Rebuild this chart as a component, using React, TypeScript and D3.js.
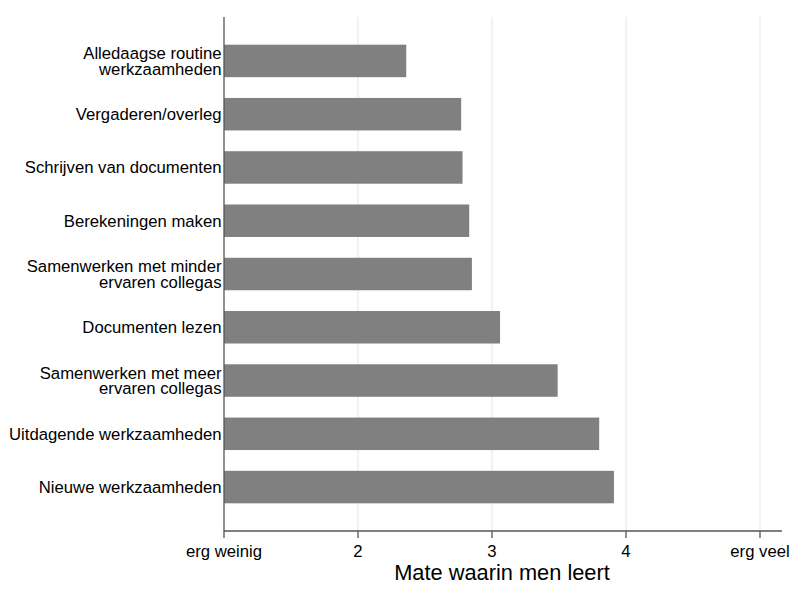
import * as d3 from "d3";

const categories = [
  ["Alledaagse routine", "werkzaamheden"],
  ["Vergaderen/overleg"],
  ["Schrijven van documenten"],
  ["Berekeningen maken"],
  ["Samenwerken met minder", "ervaren collegas"],
  ["Documenten lezen"],
  ["Samenwerken met meer", "ervaren collegas"],
  ["Uitdagende werkzaamheden"],
  ["Nieuwe werkzaamheden"]
];
const values = [2.36, 2.77, 2.78, 2.83, 2.85, 3.06, 3.49, 3.8, 3.91];
const tickValues = [1, 2, 3, 4, 5];
const tickLabels = ["erg weinig", "2", "3", "4", "erg veel"];

export default function App() {
  const width = 801;
  const height = 590;
  const left = 224;
  const top = 17;
  const bottom = 531;
  const font = "'Liberation Sans', Arial, sans-serif";

  const x = d3.scaleLinear().domain([1, 5]).range([left, 760]);
  const keys = categories.map((_, i) => String(i));
  const y = d3
    .scaleBand<string>()
    .domain(keys)
    .range([34.3, 513.7])
    .paddingInner(0.39)
    .paddingOuter(0.195);

  return (
    <svg
      width={width}
      height={height}
      viewBox={`0 0 ${width} ${height}`}
      style={{ position: "absolute", left: 0, top: 0, background: "#fff" }}
    >
      <rect width={width} height={height} fill="#ffffff" />
      {tickValues.slice(1).map((t) => (
        <line key={`g${t}`} x1={x(t)} x2={x(t)} y1={top} y2={bottom} stroke="#eaf2f3" strokeWidth="1.6" />
      ))}
      {values.map((v, i) => (
        <rect
          key={i}
          x={x(1)}
          y={y(String(i))}
          width={x(v) - x(1)}
          height={y.bandwidth()}
          fill="#808080"
        />
      ))}
      <line x1={left} x2={left} y1={top} y2={bottom + 0.5} stroke="#555555" strokeWidth="1.3" />
      <line x1={left} x2={782} y1={bottom} y2={bottom} stroke="#555555" strokeWidth="1.3" />
      {tickValues.map((t, i) => (
        <g key={`t${t}`}>
          <line x1={x(t)} x2={x(t)} y1={bottom} y2={bottom + 7} stroke="#555555" strokeWidth="1.3" />
          <text x={x(t)} y={556.5} textAnchor="middle" fontFamily={font} fontSize="16.7" fill="#000">
            {tickLabels[i]}
          </text>
        </g>
      ))}
      {categories.map((lines, i) => {
        const cy = (y(String(i)) ?? 0) + y.bandwidth() / 2;
        const lh = 15.8;
        const first = cy + 6 - ((lines.length - 1) * lh) / 2;
        return (
          <text key={`c${i}`} textAnchor="end" fontFamily={font} fontSize="16.7" fill="#000">
            {lines.map((ln, j) => (
              <tspan key={j} x={221.5} y={first + j * lh}>
                {ln}
              </tspan>
            ))}
          </text>
        );
      })}
      <text x={502} y={580} textAnchor="middle" fontFamily={font} fontSize="21.8" fill="#000">
        Mate waarin men leert
      </text>
    </svg>
  );
}
